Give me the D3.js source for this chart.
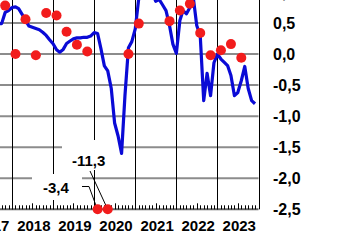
<!DOCTYPE html>
<html>
<head>
<meta charset="utf-8">
<script src="https://cdn.jsdelivr.net/npm/d3@7"></script>
<style>
  body { margin: 0; background: #fff; }
  svg { display: block; }
  text { font-family: "Liberation Sans", Arial, sans-serif; font-weight: bold; font-size: 15px; fill: #000; }
</style>
</head>
<body>
<div id="chart"></div>
<script>
// monthly indicator (blue line), first month Aug 2017
const lineStart = "2017-08"
const lineValues = [
  0.49, 0.49, 0.49, 0.67, 0.70,
  0.75, 0.76, 0.73, 0.64, 0.54, 0.45, 0.43, 0.41, 0.39, 0.35, 0.30, 0.23,
  0.165, 0.07, 0.03, 0.075, 0.17, 0.21, 0.245, 0.26, 0.26, 0.27, 0.27, 0.29,
  0.345, 0.33, 0.09, -0.19, -0.27, -0.55, -1.11, -1.32, -1.60, -0.67, 0.10, 0.20,
  0.41, 0.90, 1.10, 1.20, 1.15, 1.00, 0.85, 0.88, 0.79, 0.70, 0.46, 0.16,
  0.01, 0.54, 0.70, 0.65, 0.75, 0.90, 0.46, 0.30, -0.75, -0.31, -0.67, -0.14,
  0.00, -0.08, -0.13, -0.185, -0.345, -0.67, -0.62, -0.43, -0.20, -0.55, -0.75, -0.80
]

// quarterly values (red dots), placed on the middle month of each quarter
const dotMonths = [
  "2017-11",
  "2018-02", "2018-05", "2018-08", "2018-11",
  "2019-02", "2019-05", "2019-08", "2019-11",
  "2020-02", "2020-05", "2020-08", "2020-11",
  "2021-02", "2021-05", "2021-08", "2021-11",
  "2022-02", "2022-05", "2022-08", "2022-11",
  "2023-02", "2023-05", "2023-08"
]
const dotValues = [
  0.78,
  0.00, 0.56, -0.02, 0.66,
  0.62, 0.36, 0.15, 0.04,
  -3.4, -11.3, 7.2, 0.00,
  0.49, 1.8, 1.9, 0.53,
  0.70, 0.81, 0.34, -0.02,
  0.06, 0.16, -0.06
]

const years = [2017, 2018, 2019, 2020, 2021, 2022, 2023]
const yTicks = [1.0, 0.5, 0.0, -0.5, -1.0, -1.5, -2.0, -2.5]

var width = 340, height = 242
var parseMonth = d3.timeParse("%Y-%m")
var fmt = d3.formatLocale({decimal: ",", thousands: ".", grouping: [3], currency: ["", ""], minus: "-"})

var x = d3.scaleTime()
  .domain([new Date(2018, 0, 1), new Date(2024, 0, 1)])
  .range([12, 258.5])
var y = d3.scaleLinear()
  .domain([-2.5, 0.5])
  .range([209.3, 23])

var plotLeft = -40, plotRight = x(new Date(2024, 0, 1)), plotBottom = y(-2.5)

var svg = d3.select("#chart").append("svg")
  .attr("width", width)
  .attr("height", height)

// horizontal gridlines
svg.append("g")
  .selectAll("line")
  .data(yTicks)
  .join("line")
    .attr("x1", plotLeft).attr("x2", plotRight)
    .attr("y1", d => y(d)).attr("y2", d => y(d))
    .attr("stroke", d => d == -2.5 ? "#666" : "#8c8c8c")
    .attr("stroke-width", 2)

// vertical year lines
var yearStarts = d3.timeYear.range(new Date(2016, 0, 1), new Date(2025, 0, 1))
svg.append("g")
  .selectAll("line")
  .data(yearStarts)
  .join("line")
    .attr("x1", d => Math.round(x(d)) + 0.5).attr("x2", d => Math.round(x(d)) + 0.5)
    .attr("y1", -20).attr("y2", plotBottom)
    .attr("stroke", "#000")
    .attr("stroke-width", 1)

// month ticks on the bottom axis
svg.append("g")
  .selectAll("line")
  .data(d3.timeMonth.range(new Date(2016, 0, 1), new Date(2024, 0, 1)))
  .join("line")
    .attr("x1", d => Math.round(x(d)) + 0.5).attr("x2", d => Math.round(x(d)) + 0.5)
    .attr("y1", plotBottom).attr("y2", d => plotBottom - (d.getMonth() == 6 ? 6 : 4))
    .attr("stroke", "#000")

// y labels on the right
svg.append("g")
  .selectAll("text")
  .data(yTicks)
  .join("text")
    .attr("x", 273)
    .attr("y", d => y(d) + 5.8)
    .style("font-size", "16px")
    .text(d => fmt.format(".1f")(d))

// year labels
svg.append("g")
  .selectAll("text")
  .data(years)
  .join("text")
    .attr("x", d => (x(new Date(d, 0, 1)) + x(new Date(d + 1, 0, 1))) / 2 + 1.3)
    .attr("y", 231)
    .attr("text-anchor", "middle")
    .text(d => d)

// boxes behind the off-scale labels
svg.append("rect").attr("x", 62).attr("y", 140).attr("width", 57).attr("height", 30).attr("fill", "#fff")
svg.append("rect").attr("x", 32).attr("y", 174).attr("width", 50).attr("height", 26).attr("fill", "#fff")

// blue line
var lineData = lineValues.map((v, i) => ({date: d3.timeMonth.offset(parseMonth(lineStart), i), value: v}))
svg.append("path")
  .datum(lineData)
  .attr("fill", "none")
  .attr("stroke", "#0a0ad6")
  .attr("stroke-width", 3.2)
  .attr("stroke-linejoin", "round")
  .attr("d", d3.line().x(d => x(d.date)).y(d => y(d.value)))

// red dots (values outside the scale sit on its edge)
var dots = dotMonths.map((m, i) => ({date: parseMonth(m), value: dotValues[i]}))
var yClamp = v => y(Math.max(-2.5, Math.min(1, v)))

// leader lines for the off-scale dots
var low = dots.filter(d => d.value < -2.5)
var labelPos = {"-3.4": {tx: 43, ty: 193, lead: [[82, 186.5], [89, 186.5]]},
                "-11.3": {tx: 72, ty: 165.5, lead: [[90, 171]]}}
low.forEach(d => {
  var p = labelPos[String(d.value)]
  var pts = p.lead.concat([[x(d.date) - 1, yClamp(d.value) - 2]])
  svg.append("path")
    .attr("d", d3.line()(pts))
    .attr("fill", "none")
    .attr("stroke", "#000")
    .attr("stroke-width", 1)
  svg.append("text")
    .attr("x", p.tx)
    .attr("y", p.ty)
    .text(fmt.format(".1f")(d.value))
})

svg.append("g")
  .selectAll("circle")
  .data(dots)
  .join("circle")
    .attr("cx", d => x(d.date))
    .attr("cy", d => yClamp(d.value))
    .attr("r", 5)
    .attr("fill", "#f21c1c")
</script>
</body>
</html>
